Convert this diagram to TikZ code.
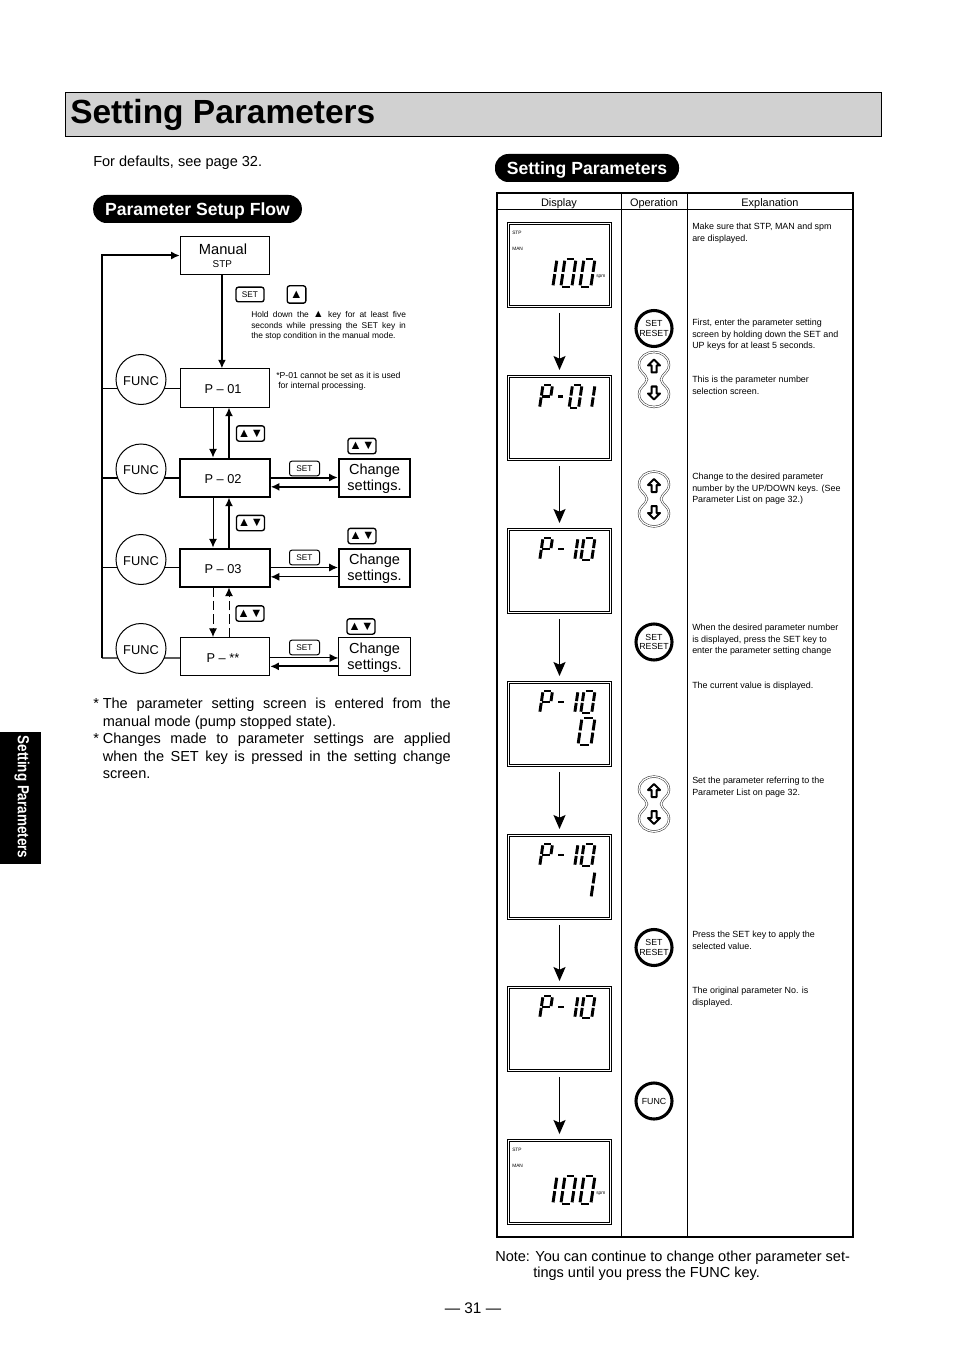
\documentclass[tikz,border=0pt]{standalone}
\usepackage{fontspec}
\setmainfont{Liberation Sans}
\usetikzlibrary{arrows.meta,backgrounds,positioning}
\tikzset{
        % Flow boxes
        flowbox/.style={draw, line width=0.75pt, minimum width=67pt, minimum height=28.5pt, inner sep=0pt, text height=8.4pt, text depth=0pt, font=\fontsize{9.6}{11}\selectfont},
        flowbold/.style={flowbox, line width=1.5pt},
        changebox/.style={draw, line width=1.5pt, minimum width=53.5pt, minimum height=28.5pt, inner sep=0pt, align=center, font=\fontsize{10.9}{12}\selectfont},
        funckey/.style={draw, circle, fill=white, line width=0.75pt, minimum size=37.5pt, inner sep=0pt, text height=8.4pt, text depth=0pt, font=\fontsize{9.6}{11}\selectfont},
        % Small key caps
        keycap/.style={draw, rounded corners=1.8pt, line width=1pt, inner sep=0pt, minimum width=21pt, minimum height=11pt, font=\fontsize{6.2}{7}\selectfont},
        arrowcap/.style={keycap, minimum height=11.5pt, font=\fontsize{9.5}{9.5}\selectfont},
        % Text
        bodytext/.style={inner sep=0pt, anchor=north west, font=\fontsize{10.9}{13}\selectfont},
        smalltext/.style={inner sep=0pt, anchor=north west, align=left, font=\fontsize{6.7}{8.6}\selectfont},
        headtext/.style={inner sep=0pt, font=\fontsize{8.2}{10}\selectfont},
        pilltext/.style={fill=black, text=white, rounded corners=10pt, inner sep=0pt, font=\bfseries\fontsize{13.2}{15}\selectfont},
        % Operation table
        screenbox/.style={draw, line width=0.75pt, minimum width=78pt, minimum height=64pt, inner sep=0pt},
        opkey/.style={draw, circle, line width=2.3pt, minimum size=27pt, inner sep=0pt, align=center, font=\fontsize{6.6}{7.4}\selectfont},
        lcdtiny/.style={inner sep=0pt, font=\fontsize{3.6}{4}\selectfont},
        flowline/.style={line width=0.75pt, -{Latex[length=6.5pt,width=6pt]}},
        flowthick/.style={flowline, line width=1.5pt},
        steparrow/.style={line width=1.2pt, shorten <=3.6pt, shorten >=3.6pt, -{Stealth[length=10.5pt,width=9pt,inset=2pt]}},
        % Up and down key
        updownkey/.pic={
            \draw[line width=0.4pt, double, double distance=0.9pt, draw=black!80]
                (-7,0) .. controls (-8,-6) and (-15,-7) .. (-15,-14.5) .. controls (-15,-23) and (-7,-27.5) .. (0,-27.5)
                .. controls (7,-27.5) and (15,-23) .. (15,-14.5) .. controls (15,-7) and (8,-6) .. (7,0)
                .. controls (8,6) and (15,7) .. (15,14.5) .. controls (15,23) and (7,27.5) .. (0,27.5)
                .. controls (-7,27.5) and (-15,23) .. (-15,14.5) .. controls (-15,7) and (-8,6) .. cycle;
            \draw[line width=1.5pt, line join=round] (0,-20) -- (6,-14) -- (2.5,-14) -- (2.5,-7) -- (-2.5,-7) -- (-2.5,-14) -- (-6,-14) -- cycle;
            \draw[line width=1.5pt, line join=round] (0,20) -- (6,14) -- (2.5,14) -- (2.5,7) -- (-2.5,7) -- (-2.5,14) -- (-6,14) -- cycle;
        }
}
% LCD segments of one glyph in a unit cell
\newcommand{\lcdsega}{\draw[line width=1.5pt] (.14,0) -- (.86,0);}
\newcommand{\lcdsegb}{\draw[line width=2.2pt] (1,.06) -- (1,.46);}
\newcommand{\lcdsegc}{\draw[line width=2.2pt] (1,.54) -- (1,.94);}
\newcommand{\lcdsegd}{\draw[line width=1.5pt] (.14,1) -- (.86,1);}
\newcommand{\lcdsege}{\draw[line width=2.2pt] (0,.54) -- (0,.94);}
\newcommand{\lcdsegf}{\draw[line width=2.2pt] (0,.06) -- (0,.46);}
\newcommand{\lcdsegg}{\draw[line width=2.1pt] (.12,.5) -- (.88,.5);}
% x, y, width, height, segments
\newcommand{\lcdglyph}[5]{
    \begin{scope}[shift={(#1,#2)}, x=#3*0.75pt, y=-#4*0.75pt, xslant=0.15]
        \foreach \seg in {#5} {\csname lcdseg\seg\endcsname}
    \end{scope}
}
\newcommand{\lcdhundred}[1]{
    \lcdglyph{556}{#1+37}{1}{28}{b,c}
    \lcdglyph{565}{#1+37}{11}{28}{a,b,c,d,e,f}
    \lcdglyph{584}{#1+37}{11}{28}{a,b,c,d,e,f}
    \node[lcdtiny, anchor=west] (stp#1) at (512,#1+11) {STP};
    \node[lcdtiny, anchor=west] (man#1) at (512,#1+27) {MAN};
    \node[lcdtiny, anchor=west] (spm#1) at (596,#1+55) {spm};
}
\newcommand{\lcdpten}[1]{
    \lcdglyph{543}{#1+10}{9.5}{22}{a,b,e,f,g}
    \lcdglyph{559}{#1+10}{7}{22}{g}
    \lcdglyph{577}{#1+10}{1}{22}{b,c}
    \lcdglyph{584}{#1+10}{11}{22}{a,b,c,d,e,f}
}
\newcommand{\changetext}{\rule{0pt}{9.5pt}Change\\settings.}
\begin{document}
\begin{tikzpicture}[x=0.75pt, y=-0.75pt]
    \useasboundingbox (0,0) rectangle (954,1351);

    % Title and headings
    \node[draw, fill=black!18, line width=0.5pt, minimum width=612pt, minimum height=33pt, inner sep=0pt] (titlebar) at (473.5,114) {};
    \node[inner sep=0pt, anchor=west, font=\bfseries\fontsize{25.1}{28}\selectfont] (titletext) at (70,115) {Setting Parameters};
    \node[bodytext] (defaults) at (93,156) {For defaults, see page 32.};
    \node[pilltext, minimum width=156.5pt, minimum height=21pt] (flowpill) at (197.5,209) {\raisebox{-4.7pt}[0pt][0pt]{Parameter Setup Flow}};
    \node[pilltext, minimum width=138pt, minimum height=21pt] (setpill) at (587,168) {\raisebox{-4.7pt}[0pt][0pt]{Setting Parameters}};
    \node[fill=black, minimum width=31pt, minimum height=99pt, inner sep=0pt] (sidetab) at (20.5,798) {};
    \node[rotate=-90, xscale=0.84, text=white, inner sep=0pt, font=\bfseries\fontsize{12}{14}\selectfont] (sidetext) at (22,797) {Setting Parameters};

    % Parameter flow
    \node[draw, line width=0.75pt, minimum width=67pt, minimum height=28.5pt, inner sep=0pt, align=center, font=\fontsize{11}{11}\selectfont] (manual) at (225,255.5) {Manual\hspace*{3pt}\\[-1pt]{\fontsize{7.4}{9}\selectfont STP}\hspace*{4pt}};
    \node[flowbox] (p01) at (225,388) {P -- 01\hspace*{3pt}};
    \node[flowbold] (p02) at (225,477.5) {P -- 02\hspace*{3pt}};
    \node[flowbold] (p03) at (225,567.5) {P -- 03\hspace*{3pt}};
    \node[flowbox] (p04) at (225,656.5) {P -- **\hspace*{3pt}};
    \node[changebox] (change2) at (374.5,477.5) {\changetext};
    \node[changebox] (change3) at (374.5,567.5) {\changetext};
    \node[changebox, line width=0.75pt] (change4) at (374.5,656.5) {\changetext};
    \node[funckey] (func1) at (141,379.5) {FUNC};
    \node[funckey] (func2) at (141,469) {FUNC};
    \node[funckey] (func3) at (141,559.5) {FUNC};
    \node[funckey] (func4) at (141,648.5) {FUNC};
    \coordinate (railtop) at (102,255.5);
    \coordinate (railbot) at (102,658);
    \begin{scope}[on background layer]
        \draw[line width=0.75pt] (p01.west) -- (p01.west -| railtop);
        \draw[line width=1.5pt] (p02.west) -- (p02.west -| railtop);
        \draw[line width=0.75pt] (p03.west) -- (p03.west -| railtop);
        \draw[line width=1pt] ([yshift=-1.1pt]p04.west) -- (railbot);
    \end{scope}
    \draw[flowthick] (railbot) -- (railtop) -- (manual.west);
    \draw[flowthick] ([xshift=-2.3pt]manual.south) -- ([xshift=-2.3pt]p01.north);
    \foreach \upper/\lower in {p01/p02, p02/p03} {
        \draw[flowline] ([xshift=-9pt]\upper.south) -- ([xshift=-9pt]\lower.north);
        \draw[flowthick] ([xshift=3pt]\lower.north) -- ([xshift=3pt]\upper.south);
    }
    \draw[flowline, dash pattern=on 7pt off 3pt] ([xshift=-9pt]p03.south) -- ([xshift=-9pt]p04.north);
    \draw[flowline, dash pattern=on 7pt off 3pt] ([xshift=3pt]p04.north) -- ([xshift=3pt]p03.south);
    \draw[flowthick] ([yshift=0pt]p02.east) -- ([yshift=0pt]change2.west);
    \draw[flowthick] ([yshift=-7pt]change2.west) -- ([yshift=-7pt]p02.east);
    \draw[flowline] ([yshift=0pt]p03.east) -- ([yshift=0pt]change3.west);
    \draw[flowline] ([yshift=-7pt]change3.west) -- ([yshift=-7pt]p03.east);
    \draw[flowline] ([yshift=-1.1pt]p04.east) -- ([yshift=-1.1pt]change4.west);
    \draw[flowthick] ([yshift=-7.4pt]change4.west) -- ([yshift=-7.4pt]p04.east);

    % Key caps
    \node[keycap] (setkey1) at (250,294.5) {SET};
    \node[arrowcap, minimum width=14pt, minimum height=13pt] (upkey1) at (296.5,294.5) {▲};
    \node[arrowcap] (udkey1) at (250.5,433.5) {▲▼};
    \node[arrowcap] (udkey2) at (362,446) {▲▼};
    \node[keycap, line width=0.75pt, minimum width=22.5pt] (setkey2) at (304.5,468.5) {SET};
    \node[arrowcap] (udkey3) at (250.5,523) {▲▼};
    \node[arrowcap] (udkey4) at (362,536) {▲▼};
    \node[keycap, line width=0.75pt, minimum width=22.5pt] (setkey3) at (304.5,557.5) {SET};
    \node[arrowcap] (udkey5) at (250,613.5) {▲▼};
    \node[arrowcap] (udkey6) at (361,626.5) {▲▼};
    \node[keycap, line width=0.75pt, minimum width=22.5pt] (setkey4) at (304.5,647.5) {SET};

    % Flow notes
    \node[smalltext, text width=116pt, align=justify, font=\fontsize{6.3}{8}\selectfont] (holdnote) at (251,311) {Hold down the {\fontsize{8}{8}\selectfont ▲} key for at least five\linebreak seconds while pressing the SET key in\linebreak the stop condition in the manual mode.};
    \node[smalltext, font=\fontsize{6.5}{7.6}\selectfont] (p01note) at (276,371.5) {*P-01 cannot be set as it is used\\[0pt]\hspace*{1.5pt}for internal processing.};
    \node[bodytext] (star1) at (93,698) {*};
    \node[bodytext, text width=261pt, align=justify] (param1) at (102.5,698) {The parameter setting screen is entered from the\linebreak manual mode (pump stopped state).};
    \node[bodytext] (star2) at (93,733) {*};
    \node[bodytext, text width=261pt, align=justify] (param2) at (102.5,733) {Changes made to parameter settings are applied\linebreak when the SET key is pressed in the setting change\linebreak screen.};

    % Operation table
    \draw[line width=1.2pt] (497,193) rectangle (853,1237);
    \draw[line width=0.6pt] (497,209.5) -- (853,209.5);
    \draw[line width=0.6pt] (621,193) -- (621,1237);
    \draw[line width=0.6pt] (687,193) -- (687,1237);
    \node[headtext] (headdisp) at (559,203.5) {Display};
    \node[headtext] (headop) at (654,203.5) {Operation};
    \node[headtext] (headexp) at (770,203.5) {Explanation};

    % Displays
    \node[screenbox] (scr1) at (559.5,265) {};
    \node[screenbox] (scr2) at (559.5,418) {};
    \node[screenbox] (scr3) at (559.5,571) {};
    \node[screenbox] (scr4) at (559.5,724) {};
    \node[screenbox] (scr5) at (559.5,877) {};
    \node[screenbox] (scr6) at (559.5,1029) {};
    \node[screenbox] (scr7) at (559.5,1182) {};
    \foreach \scr in {scr1, scr2, scr3, scr4, scr5, scr6, scr7} {
        \draw[line width=0.5pt] ([shift={(2.5,2.5)}]\scr.north west) rectangle ([shift={(-2.5,-2.5)}]\scr.south east);
    }
    \foreach \from/\to in {scr1/scr2, scr2/scr3, scr3/scr4, scr4/scr5, scr5/scr6, scr6/scr7} {
        \draw[steparrow] (\from.south) -- (\to.north);
    }
    \lcdhundred{222}
    \lcdglyph{543}{385}{9.5}{23}{a,b,e,f,g}
    \lcdglyph{559}{385}{7}{23}{g}
    \lcdglyph{572.5}{385}{9.5}{23}{a,b,c,d,e,f}
    \lcdglyph{594}{385}{1}{23}{b,c}
    \lcdpten{528}
    \lcdpten{681}
    \lcdglyph{582}{718}{13}{27}{a,b,c,d,e,f}
    \lcdpten{834}
    \lcdglyph{594}{871}{1}{27}{b,c}
    \lcdpten{986}
    \lcdhundred{1139}

    % Operation keys
    \node[opkey] (setres1) at (654,328.5) {SET\\RESET};
    \node[opkey] (setres2) at (654,642) {SET\\RESET};
    \node[opkey] (setres3) at (654,947.5) {SET\\RESET};
    \node[opkey] (funcop) at (654,1101) {FUNC};
    \pic (ud1) at (654,379.5) {updownkey};
    \pic (ud2) at (654,499) {updownkey};
    \pic (ud3) at (654,804) {updownkey};

    % Explanations
    \node[smalltext] (exp1) at (692,223) {Make sure that STP, MAN and spm\\are displayed.};
    \node[smalltext] (exp2) at (692,319) {First, enter the parameter setting\\screen by holding down the SET and\\UP keys for at least 5 seconds.};
    \node[smalltext] (exp3) at (692,376) {This is the parameter number\\selection screen.};
    \node[smalltext] (exp4) at (692,473) {Change to the desired parameter\\number by the UP/DOWN keys. (See\\Parameter List on page 32.)};
    \node[smalltext] (exp5) at (692,624) {When the desired parameter number\\is displayed, press the SET key to\\enter the parameter setting change};
    \node[smalltext] (exp6) at (692,682) {The current value is displayed.};
    \node[smalltext] (exp7) at (692,777) {Set the parameter referring to the\\Parameter List on page 32.};
    \node[smalltext] (exp8) at (692,931) {Press the SET key to apply the\\selected value.};
    \node[smalltext] (exp9) at (692,987) {The original parameter No. is\\displayed.};

    % Foot of the page
    \node[bodytext, align=left, font=\fontsize{10.9}{12}\selectfont] (footnote) at (495,1251) {Note: You can continue to change other parameter set-\\\hspace*{28.5pt}tings until you press the FUNC key.};
    \node[inner sep=0pt, font=\fontsize{11.5}{13}\selectfont] (pagenum) at (473,1308) {--- 31 ---};
\end{tikzpicture}
\end{document}
